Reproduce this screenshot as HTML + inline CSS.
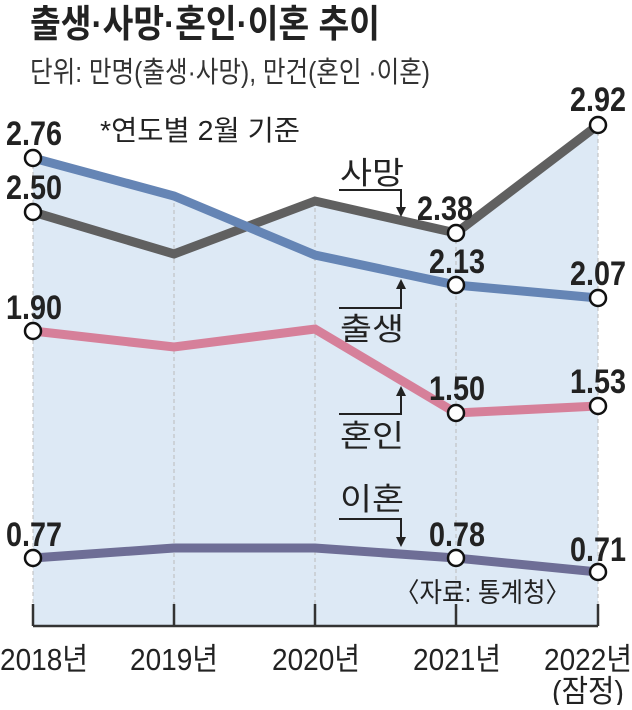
<!DOCTYPE html>
<html><head><meta charset="utf-8"><style>
body{margin:0;background:#fff}
text{font-family:"Liberation Sans","Noto Sans CJK KR",sans-serif}
.v{font-size:34px;font-weight:bold;fill:#222}
.y{font-size:31px;fill:#222}
.l{font-size:31px;fill:#222}
</style></head><body>
<svg width="632" height="705" viewBox="0 0 632 705" xmlns="http://www.w3.org/2000/svg">
<polygon points="33,158 174,196 250,228 315,201 456,233 598,125 598,626 33,626" fill="#dde9f5"/>
<g stroke="#bbb" stroke-dasharray="4,3" stroke-width="1">
<line x1="33" y1="158" x2="33" y2="626"/><line x1="174" y1="196" x2="174" y2="626"/><line x1="315" y1="201" x2="315" y2="626"/><line x1="456" y1="233" x2="456" y2="626"/><line x1="598" y1="125" x2="598" y2="626"/>
</g>
<g stroke="#333" stroke-width="2.5">
<line x1="33" y1="626" x2="598" y2="626"/>
<line x1="33" y1="604" x2="33" y2="626"/><line x1="174" y1="604" x2="174" y2="626"/><line x1="315" y1="604" x2="315" y2="626"/><line x1="456" y1="604" x2="456" y2="626"/><line x1="598" y1="604" x2="598" y2="626"/>
</g>
<g fill="none" stroke-width="9" stroke-linejoin="miter">
<polyline points="33,212 174,254 315,201 456,233 598,125" stroke="#606060"/>
<polyline points="33,158 174,196 315,255 456,285 598,298" stroke="#6585b5"/>
<polyline points="33,331 174,347 315,329 456,413 598,406" stroke="#d6809a"/>
<polyline points="33,558 174,548 315,548 456,558 598,572" stroke="#6e6e96"/>
</g>
<g fill="#fff" stroke="#111" stroke-width="2.5">
<circle cx="33" cy="158" r="8"/><circle cx="33" cy="212" r="8"/><circle cx="33" cy="331" r="8"/><circle cx="33" cy="558" r="8"/>
<circle cx="456" cy="233" r="8"/><circle cx="456" cy="285" r="8"/><circle cx="456" cy="413" r="8"/><circle cx="456" cy="558" r="8"/>
<circle cx="598" cy="125" r="8"/><circle cx="598" cy="298" r="8"/><circle cx="598" cy="406" r="8"/><circle cx="598" cy="572" r="8"/>
</g>
<text x="30" y="37" font-size="38" font-weight="bold" fill="#222" textLength="350" lengthAdjust="spacingAndGlyphs">출생·사망·혼인·이혼 추이</text>
<text x="30" y="82" font-size="29" fill="#333" textLength="400" lengthAdjust="spacingAndGlyphs">단위: 만명(출생·사망), 만건(혼인 ·이혼)</text>
<text x="100" y="140" font-size="28" fill="#222" textLength="200" lengthAdjust="spacingAndGlyphs">*연도별 2월 기준</text>
<g class="v">
<text x="6" y="145" textLength="56" lengthAdjust="spacingAndGlyphs">2.76</text>
<text x="6" y="199" textLength="56" lengthAdjust="spacingAndGlyphs">2.50</text>
<text x="6" y="319" textLength="56" lengthAdjust="spacingAndGlyphs">1.90</text>
<text x="6" y="546" textLength="56" lengthAdjust="spacingAndGlyphs">0.77</text>
<text x="417" y="220" textLength="56" lengthAdjust="spacingAndGlyphs">2.38</text>
<text x="429" y="273" textLength="56" lengthAdjust="spacingAndGlyphs">2.13</text>
<text x="429" y="400" textLength="56" lengthAdjust="spacingAndGlyphs">1.50</text>
<text x="429" y="546" textLength="56" lengthAdjust="spacingAndGlyphs">0.78</text>
<text x="570" y="111" textLength="56" lengthAdjust="spacingAndGlyphs">2.92</text>
<text x="570" y="285" textLength="56" lengthAdjust="spacingAndGlyphs">2.07</text>
<text x="570" y="393" textLength="56" lengthAdjust="spacingAndGlyphs">1.53</text>
<text x="570" y="561" textLength="56" lengthAdjust="spacingAndGlyphs">0.71</text>
</g>
<g class="l">
<text x="340" y="184" textLength="64" lengthAdjust="spacingAndGlyphs">사망</text>
<text x="340" y="340" textLength="64" lengthAdjust="spacingAndGlyphs">출생</text>
<text x="340" y="447" textLength="64" lengthAdjust="spacingAndGlyphs">혼인</text>
<text x="340" y="510" textLength="64" lengthAdjust="spacingAndGlyphs">이혼</text>
</g>
<g stroke="#222" stroke-width="2" fill="none">
<polyline points="339,190 401,190 401,210"/>
<polyline points="339,308 401,308 401,285"/>
<polyline points="339,414 401,414 401,392"/>
<polyline points="339,519 401,519 401,540"/>
</g>
<g fill="#222">
<polygon points="396,207 406,207 401,217"/>
<polygon points="396,289 406,289 401,279"/>
<polygon points="396,396 406,396 401,386"/>
<polygon points="396,537 406,537 401,547"/>
</g>
<text x="395" y="602" font-size="27" fill="#222" textLength="175" lengthAdjust="spacingAndGlyphs">〈자료: 통계청〉</text>
<g class="y">
<text x="0" y="670" textLength="88" lengthAdjust="spacingAndGlyphs">2018년</text>
<text x="130" y="670" textLength="88" lengthAdjust="spacingAndGlyphs">2019년</text>
<text x="272" y="670" textLength="88" lengthAdjust="spacingAndGlyphs">2020년</text>
<text x="413" y="670" textLength="88" lengthAdjust="spacingAndGlyphs">2021년</text>
<text x="544" y="670" textLength="88" lengthAdjust="spacingAndGlyphs">2022년</text>
<text x="552" y="702" textLength="72" lengthAdjust="spacingAndGlyphs">(잠정)</text>
</g>
</svg>
</body></html>
